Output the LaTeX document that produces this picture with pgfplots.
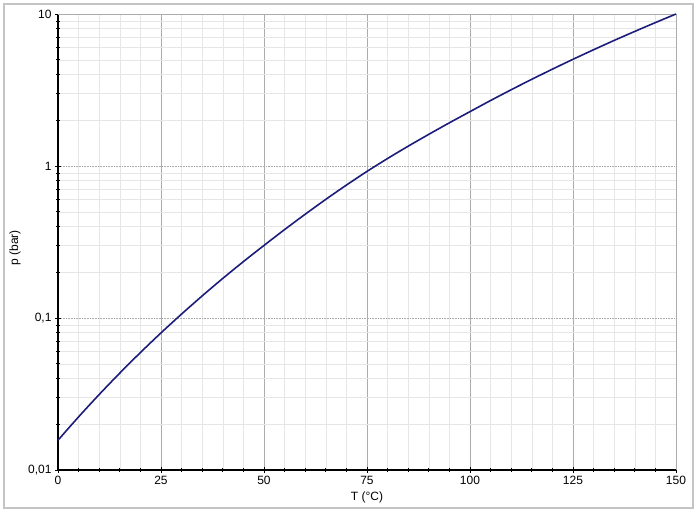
\documentclass[border=0pt]{standalone}
\usepackage{fontspec}
\setmainfont{Liberation Sans}
\usepackage{pgfplots}
\pgfplotsset{compat=1.18}
\definecolor{curve}{HTML}{1C1C7A}
\definecolor{frame}{HTML}{C4C4C4}
\definecolor{majgrid}{HTML}{ABABAB}
\definecolor{mingrid}{HTML}{E6E6E6}
\begin{document}
\begin{tikzpicture}
\useasboundingbox (-58pt,-42pt) rectangle (639pt,470pt);
\draw[frame, line width=2pt] (-54pt,-37.5pt) rectangle (634.5pt,466pt);
\begin{axis}[
  at={(0pt,0pt)}, anchor=south west,
  scale only axis, width=618pt, height=456pt,
  ymode=log, log basis y=10,
  xmin=0, xmax=150, ymin=0.01, ymax=10,
  xtick={0,25,50,75,100,125,150},
  minor x tick num=4,
  ytick={0.01,0.1,1,10},
  minor ytick={0.02,0.03,0.04,0.05,0.06,0.07,0.08,0.09,0.2,0.3,0.4,0.5,0.6,0.7,0.8,0.9,2,3,4,5,6,7,8,9},
  yticklabels={{0,01},{0,1},{1},{10}},
  /pgf/number format/assume math mode=true,
  font=\fontsize{12}{14}\selectfont,
  tick label style={font=\fontsize{12}{14}\selectfont},
  grid=both,
  major x grid style={majgrid, line width=0.6pt},
  major y grid style={majgrid, line width=0.6pt, densely dotted},
  minor grid style={mingrid, line width=0.5pt},
  axis x line*=bottom, axis y line*=left,
  axis line style={black, line width=1.2pt, -},
  tick align=center,
  major tick length=6pt,
  minor tick length=4pt,
  tick style={black, line width=0.9pt},
  minor tick style={black, line width=0.7pt},
  xlabel={T (°C)}, ylabel={p (bar)},
  every axis x label/.style={at={(axis description cs:0.5,-0.0592)}, anchor=center},
  every axis y label/.style={at={(axis description cs:-0.0696,0.487)}, rotate=90, anchor=center},
  clip=false,
]
\draw[majgrid, line width=0.8pt] (axis cs:0,10) -- (axis cs:150,10) -- (axis cs:150,0.01);
\addplot[curve, line width=1.6pt, smooth] coordinates {
(0,0.01570) (5,0.02237) (10,0.03139) (15,0.04342) (20,0.05926)
(25,0.07983) (30,0.1062) (35,0.1398) (40,0.1822) (45,0.2350)
(50,0.3002) (55,0.3819) (60,0.4816) (65,0.6033) (70,0.7490)
(75,0.9213) (80,1.1205) (85,1.3506) (90,1.6158) (95,1.9241)
(100,2.279) (105,2.697) (110,3.175) (115,3.720) (120,4.337)
(125,5.035) (130,5.821) (135,6.703) (140,7.684) (145,8.782)
(150,10.0)
};
\end{axis}
\end{tikzpicture}
\end{document}
